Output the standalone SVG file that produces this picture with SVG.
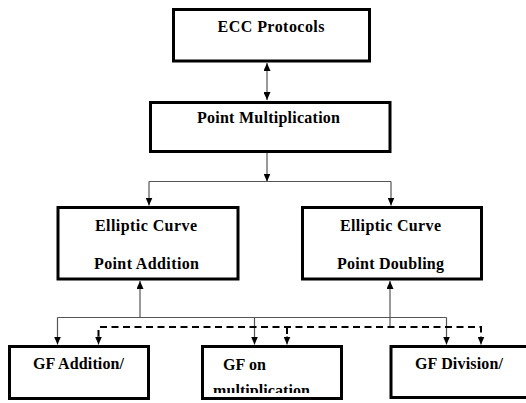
<svg xmlns="http://www.w3.org/2000/svg" width="526" height="403" viewBox="0 0 526 403">
  <style>
    .box { fill: #fff; stroke: #000; stroke-width: 3; }
    .lbl { font-family: 'Liberation Serif', 'DejaVu Serif', serif; font-weight: 700; font-size: 16px; fill: #000; }
    .mid { text-anchor: middle; }
    .wire { fill: none; stroke: #555; stroke-width: 1.2; }
    .dash { fill: none; stroke: #000; stroke-width: 2; stroke-dasharray: 7 4.5; }
  </style>
  <defs>
    <marker id="tip" viewBox="0 0 8 7" refX="8" refY="3.5" markerWidth="8" markerHeight="7" markerUnits="userSpaceOnUse" orient="auto-start-reverse">
      <path d="M0,0 L8,3.5 L0,7 Z" fill="#000"/>
    </marker>
    <clipPath id="clipMul">
      <rect x="200" y="340" width="145" height="53"/>
    </clipPath>
  </defs>

  <rect width="526" height="403" fill="#fff"/>

  <g id="connectors">
    <!-- ECC Protocols <-> Point Multiplication -->
    <path class="wire" d="M267,63 V100" marker-start="url(#tip)" marker-end="url(#tip)"/>
    <!-- Point Multiplication fan-out -->
    <path class="wire" d="M267,152 V181.5" marker-end="url(#tip)"/>
    <path class="wire" d="M149,181.5 H391"/>
    <path class="wire" d="M149,181.5 V205.5" marker-end="url(#tip)"/>
    <path class="wire" d="M391,181.5 V205.5" marker-end="url(#tip)"/>
    <!-- solid bus into Point Addition -->
    <path class="wire" d="M140,317.5 V281" marker-end="url(#tip)"/>
    <path class="wire" d="M57.5,317.5 H446.5"/>
    <path class="wire" d="M57.5,317.5 V344.5" marker-end="url(#tip)"/>
    <path class="wire" d="M254.5,317.5 V344.5" marker-end="url(#tip)"/>
    <path class="wire" d="M446.5,317.5 V344.5" marker-end="url(#tip)"/>
    <!-- dashed bus into Point Doubling -->
    <path class="wire" d="M390,327 V281" marker-end="url(#tip)"/>
    <path class="dash" d="M98.5,337 V327 H481 V337"/>
    <path class="wire" d="M98.5,336 V344.5" marker-end="url(#tip)"/>
    <path class="dash" d="M287,327 V337"/>
    <path class="wire" d="M287,336 V344.5" marker-end="url(#tip)"/>
    <path class="wire" d="M481,336 V344.5" marker-end="url(#tip)"/>
  </g>

  <g id="ecc-protocols">
    <rect class="box" x="173.5" y="9.5" width="196" height="51.5"/>
    <text class="lbl mid" x="271" y="31.5" textLength="107" lengthAdjust="spacing">ECC Protocols</text>
  </g>

  <g id="point-multiplication">
    <rect class="box" x="150.5" y="102.5" width="239.5" height="49"/>
    <text class="lbl mid" x="268.5" y="123" textLength="143" lengthAdjust="spacing">Point Multiplication</text>
  </g>

  <g id="point-addition">
    <rect class="box" x="58" y="207.5" width="180" height="71.5"/>
    <text class="lbl mid" x="146" y="230.5" textLength="102" lengthAdjust="spacing">Elliptic Curve</text>
    <text class="lbl mid" x="146.5" y="269" textLength="105" lengthAdjust="spacing">Point Addition</text>
  </g>

  <g id="point-doubling">
    <rect class="box" x="302.5" y="207.5" width="179" height="71.5"/>
    <text class="lbl mid" x="390.5" y="230.5" textLength="101" lengthAdjust="spacing">Elliptic Curve</text>
    <text class="lbl mid" x="390.5" y="269" textLength="107" lengthAdjust="spacing">Point Doubling</text>
  </g>

  <g id="gf-addition">
    <rect class="box" x="9.5" y="346.5" width="139" height="52"/>
    <text class="lbl mid" x="78.5" y="369" textLength="91" lengthAdjust="spacing">GF Addition/</text>
  </g>

  <g id="gf-multiplication">
    <rect class="box" x="202.5" y="346.5" width="139" height="52"/>
    <text class="lbl" x="223" y="370" textLength="43" lengthAdjust="spacing">GF on</text>
    <text class="lbl" x="213" y="396" clip-path="url(#clipMul)" textLength="97" lengthAdjust="spacing">multiplication</text>
  </g>

  <g id="gf-division">
    <rect class="box" x="391" y="346.5" width="140" height="51"/>
    <text class="lbl mid" x="459" y="369" textLength="88" lengthAdjust="spacing">GF Division/</text>
  </g>
</svg>
